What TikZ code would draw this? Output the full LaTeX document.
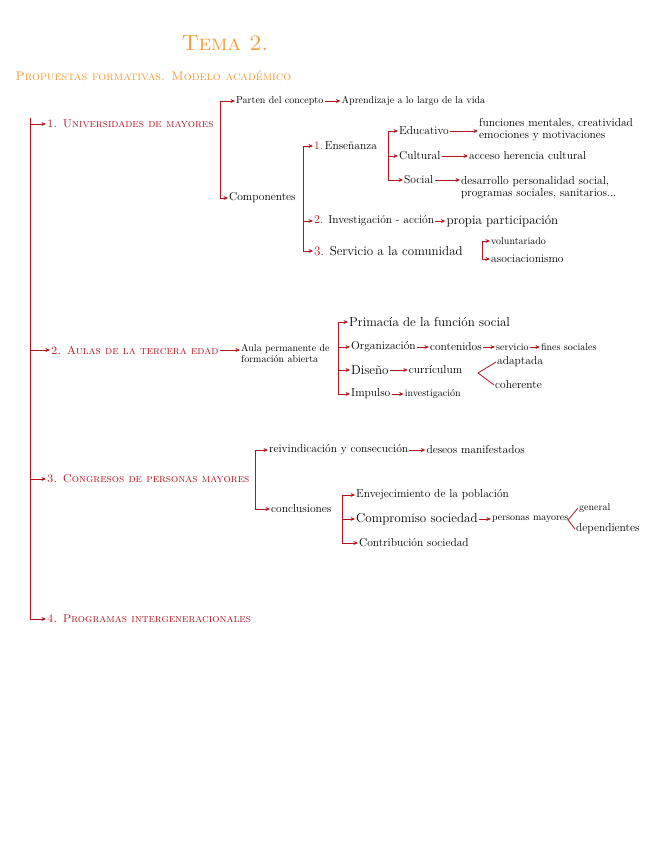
\documentclass[tikz,border=0pt]{standalone}
\usepackage{xcolor}
\usepackage{tikz}
\usetikzlibrary{arrows.meta,positioning,calc}
\definecolor{redc}{HTML}{B3141E}
\definecolor{orangec}{HTML}{F29A35}

\begin{document}
\begin{tikzpicture}[
    x=1pt, y=-1pt,
    heading/.style={anchor=west, inner sep=1pt, text=redc, font=\fontsize{11.4}{13}\selectfont\scshape},
    sm/.style={anchor=west, inner sep=1pt, font=\fontsize{10}{11}\selectfont},
    md/.style={anchor=west, inner sep=1pt, font=\fontsize{11.5}{12}\selectfont},
    lg/.style={anchor=west, inner sep=1pt, font=\fontsize{13}{14}\selectfont},
    arrow/.style={draw=redc, thick, -{Stealth[length=4.5pt,width=4pt]}},
    fork/.style={draw=redc, thick}
]
    \useasboundingbox (0,0) rectangle (656,848);

    % titles
    \node[text=orangec, font=\fontsize{22}{24}\selectfont\scshape] (tema) at (225,43) {Tema 2.};
    \node[anchor=west, text=orangec, font=\fontsize{12.5}{14}\selectfont\scshape] (prop) at (12,76) {Propuestas formativas. Modelo académico};

    % main branches
    \coordinate (root) at (30,118);
    \node[heading] (uni) at (46,124) {1. Universidades de mayores};
    \node[heading] (aulas) at (50,350) {2. Aulas de la tercera edad};
    \node[heading] (cong) at (46,479) {3. Congresos de personas mayores};
    \node[heading] (prog) at (46,619) {4. Programas intergeneracionales};

    \draw[arrow] (root) |- (uni.west);
    \draw[arrow] (root) |- (aulas.west);
    \draw[arrow] (root) |- (cong.west);
    \draw[arrow] (root) |- (prog.west);

    % 1. universidades
    \coordinate (buni) at (220,150);
    \node[sm] (parten) at (235,101) {Parten del concepto};
    \node[sm, right=16pt of parten] (aprend) {Aprendizaje a lo largo de la vida};
    \node[md] (comp) at (228,198) {Componentes};
    \draw[arrow] (buni) |- (parten.west);
    \draw[arrow] (buni) |- (comp.west);
    \draw[arrow] (parten) -- (aprend);

    \coordinate (bcomp) at (303,198);
    \node[md] (ens) at (313,146) {\textcolor{redc}{1.}\,Enseñanza};
    \node[md] (inv) at (313,221) {\textcolor{redc}{\large 2.} Investigación - acción};
    \node[lg] (serv) at (313,251) {\textcolor{redc}{3.} Servicio a la comunidad};
    \draw[arrow] (bcomp) |- (ens.west);
    \draw[arrow] (bcomp) |- (inv.west);
    \draw[arrow] (bcomp) |- (serv.west);
    \node[lg, right=10pt of inv] (propia) {propia participación};
    \draw[arrow] (inv) -- (propia);

    \coordinate (bens) at (388,156);
    \node[md] (edu) at (398,131) {Educativo};
    \node[md] (cult) at (398,156) {Cultural};
    \node[md] (soc) at (403,180) {Social};
    \draw[arrow] (bens) |- (edu.west);
    \draw[arrow] (bens) |- (cult.west);
    \draw[arrow] (bens) |- (soc.west);
    \node[md, align=left] (func) at (478,130) {funciones mentales, creatividad\\emociones y motivaciones};
    \node[md] (acc) at (468,156) {acceso herencia cultural};
    \node[md, align=left] (desa) at (460,188) {desarrollo personalidad social,\\programas sociales, sanitarios...};
    \draw[arrow] (edu) -- (func.west |- edu);
    \draw[arrow] (cult) -- (acc);
    \draw[arrow] (soc) -- (desa.west |- soc);

    \coordinate (bserv) at (482,251);
    \node[sm] (vol) at (490,241) {voluntariado};
    \node[md] (asoc) at (490,259) {asociacionismo};
    \draw[arrow] (bserv) |- (vol.west);
    \draw[arrow] (bserv) |- (asoc.west);

    % 2. aulas
    \node[sm, align=left] (aula) at (240,353) {Aula permanente de\\formación abierta};
    \draw[arrow] (aulas.east) -- (aula.west |- aulas.east);

    \coordinate (baula) at (338,353);
    \node[lg] (prim) at (348,322) {Primacía de la función social};
    \node[md] (org) at (350,347) {Organización};
    \node[lg] (dis) at (350,370) {Diseño};
    \node[md] (imp) at (350,394) {Impulso};
    \draw[arrow] (baula) |- (prim.west);
    \draw[arrow] (baula) |- (org.west);
    \draw[arrow] (baula) |- (dis.west);
    \draw[arrow] (baula) |- (imp.west);

    \node[md, right=12pt of org] (cont) {contenidos};
    \node[sm, right=12pt of cont] (servi) {servicio};
    \node[sm, right=10pt of servi] (fines) {fines sociales};
    \draw[arrow] (org) -- (cont);
    \draw[arrow] (cont) -- (servi);
    \draw[arrow] (servi) -- (fines);

    \node[md, right=18pt of dis] (curr) {currículum};
    \draw[arrow] (dis) -- (curr);
    \coordinate (vcurr) at (478,373);
    \node[md] (adap) at (496,362) {adaptada};
    \node[md] (coh) at (494,385) {coherente};
    \draw[fork] (adap.west) -- (vcurr) -- (coh.west);

    \node[sm, right=12pt of imp] (invest) {investigación};
    \draw[arrow] (imp) -- (invest);

    % 3. congresos
    \coordinate (bcong) at (255,479);
    \node[md] (reiv) at (268,450) {reivindicación y consecución};
    \node[md] (concl) at (270,509) {conclusiones};
    \draw[arrow] (bcong) |- (reiv.west);
    \draw[arrow] (bcong) |- (concl.west);
    \node[md, right=16pt of reiv] (deseos) {deseos manifestados};
    \draw[arrow] (reiv) -- (deseos);

    \coordinate (bconcl) at (342,509);
    \node[md] (env) at (355,495) {Envejecimiento de la población};
    \node[lg] (compr) at (355,519) {Compromiso sociedad};
    \node[md] (contr) at (358,543) {Contribución sociedad};
    \draw[arrow] (bconcl) |- (env.west);
    \draw[arrow] (bconcl) |- (compr.west);
    \draw[arrow] (bconcl) |- (contr.west);

    \node[sm, right=12pt of compr] (pers) {personas mayores};
    \draw[arrow] (compr) -- (pers);
    \coordinate (vpers) at (568,520);
    \node[sm] (gen) at (578,508) {general};
    \node[md] (dep) at (575,529) {dependientes};
    \draw[fork] (gen.west) -- (vpers) -- (dep.west);
\end{tikzpicture}
\end{document}
